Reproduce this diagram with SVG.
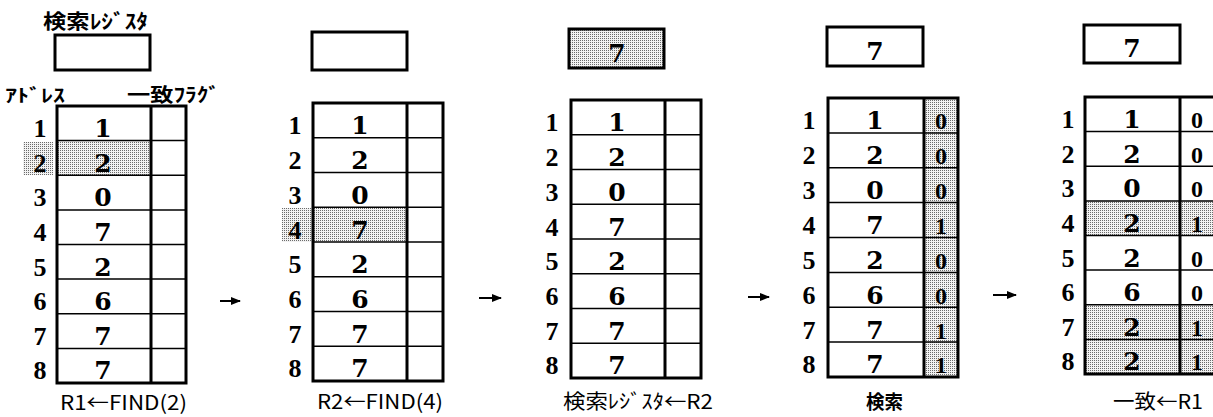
<svg xmlns="http://www.w3.org/2000/svg" width="1213" height="417" viewBox="0 0 1213 417">
<style>
.bg{fill:#fff}
.box{fill:none;stroke:#000;stroke-width:3}
.div{stroke:#000;stroke-width:3}
.row{stroke:#000;stroke-width:1.5}
.addr{font-family:"Liberation Serif",serif;font-size:26px;font-weight:bold;text-anchor:middle;fill:#000}
.val{font-family:"DejaVu Serif",serif;font-size:25px;font-weight:bold;text-anchor:middle;fill:#000}
.flag{font-family:"Liberation Serif",serif;font-size:24px;font-weight:bold;text-anchor:middle;fill:#000}
.jp{font-family:"Noto Sans CJK JP",sans-serif;font-weight:bold;fill:#000}
.cap{font-family:"Noto Sans CJK JP",sans-serif;font-size:20px;fill:#000}
.arr{stroke:#000;stroke-width:2;fill:none}
.sh{fill:url(#dots)}
</style>
<defs>
<pattern id="dots" width="2" height="2" patternUnits="userSpaceOnUse">
<rect width="2" height="2" fill="#f2f2f2"/>
<rect width="1" height="1" fill="#6a6a6a"/>
</pattern>
<marker id="ah" markerWidth="10" markerHeight="9" refX="9" refY="4.5" orient="auto" markerUnits="userSpaceOnUse">
<path d="M0,0.5 L10,4.5 L0,8.5 Z" fill="#000"/>
</marker>
</defs>
<rect class="bg" width="1213" height="417"/>

<!-- Panel 1 -->
<g id="panel1">
<text class="jp" x="43" y="29" font-size="20" textLength="105" lengthAdjust="spacingAndGlyphs">検索ﾚｼﾞｽﾀ</text>
<rect class="box" x="55" y="35" width="95" height="35"/>
<text class="jp" x="5" y="102" font-size="18" textLength="60" lengthAdjust="spacingAndGlyphs">ｱﾄﾞﾚｽ</text>
<text class="jp" x="127" y="102" font-size="19" textLength="93" lengthAdjust="spacingAndGlyphs">一致ﾌﾗｸﾞ</text>
<rect class="sh" x="57" y="140.6" width="94" height="34.6"/>
<rect class="sh" x="23" y="142" width="30" height="33"/>
<line class="row" x1="57" y1="140.6" x2="186" y2="140.6"/>
<line class="row" x1="57" y1="175.25" x2="186" y2="175.25"/>
<line class="row" x1="57" y1="209.9" x2="186" y2="209.9"/>
<line class="row" x1="57" y1="244.5" x2="186" y2="244.5"/>
<line class="row" x1="57" y1="279.1" x2="186" y2="279.1"/>
<line class="row" x1="57" y1="313.75" x2="186" y2="313.75"/>
<line class="row" x1="57" y1="348.4" x2="186" y2="348.4"/>
<line class="div" x1="151" y1="106" x2="151" y2="383"/>
<rect class="box" x="57" y="106" width="129" height="277"/>
<text class="addr" x="40" y="137">1</text>
<text class="addr" x="40" y="171.5">2</text>
<text class="addr" x="40" y="206">3</text>
<text class="addr" x="40" y="241">4</text>
<text class="addr" x="40" y="275.5">5</text>
<text class="addr" x="40" y="310">6</text>
<text class="addr" x="40" y="344.5">7</text>
<text class="addr" x="40" y="379">8</text>
<text class="val" x="103" y="137">1</text>
<text class="val" x="103" y="171.5">2</text>
<text class="val" x="103" y="206">0</text>
<text class="val" x="103" y="241">7</text>
<text class="val" x="103" y="275.5">2</text>
<text class="val" x="103" y="310">6</text>
<text class="val" x="103" y="344.5">7</text>
<text class="val" x="103" y="379">7</text>
<text class="cap" x="60" y="410" textLength="127" lengthAdjust="spacingAndGlyphs">R1←FIND(2)</text>
</g>

<!-- Panel 2 -->
<g id="panel2">
<rect class="box" x="312" y="32" width="95" height="38"/>
<rect class="sh" x="313" y="207.25" width="94" height="34.75"/>
<rect class="sh" x="282" y="208" width="31" height="34"/>
<line class="row" x1="313" y1="137.75" x2="443" y2="137.75"/>
<line class="row" x1="313" y1="172.5" x2="443" y2="172.5"/>
<line class="row" x1="313" y1="207.25" x2="443" y2="207.25"/>
<line class="row" x1="313" y1="242" x2="443" y2="242"/>
<line class="row" x1="313" y1="276.75" x2="443" y2="276.75"/>
<line class="row" x1="313" y1="311.5" x2="443" y2="311.5"/>
<line class="row" x1="313" y1="346.25" x2="443" y2="346.25"/>
<line class="div" x1="407" y1="103" x2="407" y2="381"/>
<rect class="box" x="313" y="103" width="130" height="278"/>
<text class="addr" x="295" y="134">1</text>
<text class="addr" x="295" y="169">2</text>
<text class="addr" x="295" y="203.5">3</text>
<text class="addr" x="295" y="238.5">4</text>
<text class="addr" x="295" y="273">5</text>
<text class="addr" x="295" y="308">6</text>
<text class="addr" x="295" y="342.5">7</text>
<text class="addr" x="295" y="377">8</text>
<text class="val" x="360" y="134">1</text>
<text class="val" x="360" y="169">2</text>
<text class="val" x="360" y="203.5">0</text>
<text class="val" x="360" y="238.5">7</text>
<text class="val" x="360" y="273">2</text>
<text class="val" x="360" y="308">6</text>
<text class="val" x="360" y="342.5">7</text>
<text class="val" x="360" y="377">7</text>
<text class="cap" x="317" y="409" textLength="126" lengthAdjust="spacingAndGlyphs">R2←FIND(4)</text>
</g>

<!-- Panel 3 -->
<g id="panel3">
<rect class="sh" x="569" y="29" width="95" height="39"/>
<rect class="box" x="569" y="29" width="95" height="39"/>
<text class="val" x="617" y="62">7</text>
<line class="row" x1="571" y1="134.75" x2="701" y2="134.75"/>
<line class="row" x1="571" y1="169.5" x2="701" y2="169.5"/>
<line class="row" x1="571" y1="204.25" x2="701" y2="204.25"/>
<line class="row" x1="571" y1="239" x2="701" y2="239"/>
<line class="row" x1="571" y1="273.75" x2="701" y2="273.75"/>
<line class="row" x1="571" y1="308.5" x2="701" y2="308.5"/>
<line class="row" x1="571" y1="343.25" x2="701" y2="343.25"/>
<line class="div" x1="665" y1="100" x2="665" y2="378"/>
<rect class="box" x="571" y="100" width="130" height="278"/>
<text class="addr" x="552" y="131">1</text>
<text class="addr" x="552" y="166">2</text>
<text class="addr" x="552" y="200.5">3</text>
<text class="addr" x="552" y="235.5">4</text>
<text class="addr" x="552" y="270">5</text>
<text class="addr" x="552" y="305">6</text>
<text class="addr" x="552" y="339.5">7</text>
<text class="addr" x="552" y="374">8</text>
<text class="val" x="617" y="131">1</text>
<text class="val" x="617" y="166">2</text>
<text class="val" x="617" y="200.5">0</text>
<text class="val" x="617" y="235.5">7</text>
<text class="val" x="617" y="270">2</text>
<text class="val" x="617" y="305">6</text>
<text class="val" x="617" y="339.5">7</text>
<text class="val" x="617" y="374">7</text>
<text class="cap" x="563" y="409" textLength="150" lengthAdjust="spacingAndGlyphs">検索ﾚｼﾞｽﾀ←R2</text>
</g>

<!-- Panel 4 -->
<g id="panel4">
<rect class="box" x="827" y="27" width="96" height="39"/>
<text class="val" x="875" y="60">7</text>
<rect class="sh" x="924" y="98" width="34" height="279"/>
<line class="row" x1="828" y1="132.9" x2="958" y2="132.9"/>
<line class="row" x1="828" y1="167.75" x2="958" y2="167.75"/>
<line class="row" x1="828" y1="202.6" x2="958" y2="202.6"/>
<line class="row" x1="828" y1="237.5" x2="958" y2="237.5"/>
<line class="row" x1="828" y1="272.4" x2="958" y2="272.4"/>
<line class="row" x1="828" y1="307.25" x2="958" y2="307.25"/>
<line class="row" x1="828" y1="342.1" x2="958" y2="342.1"/>
<line class="div" x1="924" y1="98" x2="924" y2="377"/>
<rect class="box" x="828" y="98" width="130" height="279"/>
<text class="addr" x="809" y="129">1</text>
<text class="addr" x="809" y="164">2</text>
<text class="addr" x="809" y="199">3</text>
<text class="addr" x="809" y="234">4</text>
<text class="addr" x="809" y="269">5</text>
<text class="addr" x="809" y="303.5">6</text>
<text class="addr" x="809" y="338.5">7</text>
<text class="addr" x="809" y="373">8</text>
<text class="val" x="875" y="129">1</text>
<text class="val" x="875" y="164">2</text>
<text class="val" x="875" y="199">0</text>
<text class="val" x="875" y="234">7</text>
<text class="val" x="875" y="269">2</text>
<text class="val" x="875" y="303.5">6</text>
<text class="val" x="875" y="338.5">7</text>
<text class="val" x="875" y="373">7</text>
<text class="flag" x="941" y="129">0</text>
<text class="flag" x="941" y="164">0</text>
<text class="flag" x="941" y="199">0</text>
<text class="flag" x="941" y="234">1</text>
<text class="flag" x="941" y="269">0</text>
<text class="flag" x="941" y="303.5">0</text>
<text class="flag" x="941" y="338.5">1</text>
<text class="flag" x="941" y="373">1</text>
<text class="jp" x="866" y="409" font-size="19" textLength="37" lengthAdjust="spacingAndGlyphs">検索</text>
</g>

<!-- Panel 5 -->
<g id="panel5">
<rect class="box" x="1084" y="25" width="96" height="38"/>
<text class="val" x="1132" y="57">7</text>
<rect class="sh" x="1085" y="200.9" width="131" height="34.6"/>
<rect class="sh" x="1085" y="304.75" width="131" height="69.25"/>
<line class="row" x1="1085" y1="131.6" x2="1216" y2="131.6"/>
<line class="row" x1="1085" y1="166.25" x2="1216" y2="166.25"/>
<line class="row" x1="1085" y1="200.9" x2="1216" y2="200.9"/>
<line class="row" x1="1085" y1="235.5" x2="1216" y2="235.5"/>
<line class="row" x1="1085" y1="270.1" x2="1216" y2="270.1"/>
<line class="row" x1="1085" y1="304.75" x2="1216" y2="304.75"/>
<line class="row" x1="1085" y1="339.4" x2="1216" y2="339.4"/>
<line class="div" x1="1180" y1="97" x2="1180" y2="374"/>
<rect class="box" x="1085" y="97" width="131" height="277"/>
<text class="addr" x="1068" y="128">1</text>
<text class="addr" x="1068" y="162.5">2</text>
<text class="addr" x="1068" y="197">3</text>
<text class="addr" x="1068" y="232">4</text>
<text class="addr" x="1068" y="266.5">5</text>
<text class="addr" x="1068" y="301">6</text>
<text class="addr" x="1068" y="335.5">7</text>
<text class="addr" x="1068" y="370">8</text>
<text class="val" x="1132" y="128">1</text>
<text class="val" x="1132" y="162.5">2</text>
<text class="val" x="1132" y="197">0</text>
<text class="val" x="1132" y="232">2</text>
<text class="val" x="1132" y="266.5">2</text>
<text class="val" x="1132" y="301">6</text>
<text class="val" x="1132" y="335.5">2</text>
<text class="val" x="1132" y="370">2</text>
<text class="flag" x="1197" y="128">0</text>
<text class="flag" x="1197" y="162.5">0</text>
<text class="flag" x="1197" y="197">0</text>
<text class="flag" x="1197" y="232">1</text>
<text class="flag" x="1197" y="266.5">0</text>
<text class="flag" x="1197" y="301">0</text>
<text class="flag" x="1197" y="335.5">1</text>
<text class="flag" x="1197" y="370">1</text>
<text class="cap" x="1113" y="409" textLength="90" lengthAdjust="spacingAndGlyphs">一致←R1</text>
</g>

<!-- Connectors -->
<g id="connectors">
<line class="arr" x1="220" y1="301" x2="240" y2="301" marker-end="url(#ah)"/>
<line class="arr" x1="479" y1="298" x2="501" y2="298" marker-end="url(#ah)"/>
<line class="arr" x1="748" y1="297" x2="769" y2="297" marker-end="url(#ah)"/>
<line class="arr" x1="993" y1="295" x2="1016" y2="295" marker-end="url(#ah)"/>
</g>
</svg>
